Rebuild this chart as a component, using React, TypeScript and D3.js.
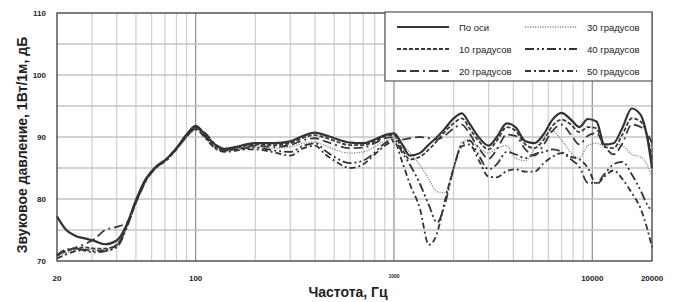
import React from "react";
import * as d3 from "d3";

// frequency grid, Hz
const freqs = [20, 22, 25, 28, 31, 35, 40, 45, 50, 56, 63, 71, 80, 90, 100, 112, 125, 140, 160, 180,
  200, 250, 300, 350, 400, 450, 500, 600, 700, 800, 900, 1000, 1100, 1200, 1350, 1500, 1650, 1800, 2000, 2200,
  2400, 2700, 3000, 3300, 3700, 4100, 4600, 5100, 5700, 6300, 7000, 7800, 8600, 9500, 10500, 11500, 12800, 14200, 15800, 17500,
  19000, 20000];

const onAxis = [77.2, 75.2, 74.0, 73.6, 73.2, 72.7, 73.3, 75.9, 79.8, 83.2,
  85.2, 86.4, 88.2, 90.4, 91.8, 90.3, 88.8, 88.1, 88.4, 88.8,
  89.0, 89.0, 89.3, 90.2, 90.7, 90.3, 89.8, 89.1, 89.0, 89.6,
  90.3, 90.6, 88.8, 87.0, 87.4, 88.8, 90.0, 91.3, 93.0, 93.8,
  92.2, 89.8, 88.6, 90.0, 92.2, 91.6, 89.3, 89.0, 90.5, 92.8,
  93.9, 92.8, 91.6, 92.9, 92.5, 88.8, 89.0, 91.5, 94.6, 93.6,
  89.6, 85.0];

const deg10 = [70.8, 71.5, 72.0, 72.2, 72.0, 72.0, 72.6, 75.6, 79.6, 83.0,
  85.0, 86.3, 88.0, 90.2, 91.6, 90.5, 88.6, 87.9, 88.2, 88.6,
  88.8, 88.7, 89.0, 89.9, 90.3, 89.9, 89.4, 88.7, 88.7, 89.3,
  90.1, 90.3, 88.0, 86.4, 86.8, 88.0, 89.4, 90.8, 92.2, 93.0,
  91.4, 89.2, 88.0, 89.4, 91.6, 91.0, 88.8, 88.2, 89.6, 91.8,
  92.8, 92.0, 90.8, 91.6, 91.4, 88.4, 88.2, 90.4, 93.0, 92.5,
  90.0, 86.5];

const deg20 = [71.0, 71.6, 72.2, 72.8, 73.6, 75.0, 75.5, 76.2, 79.4, 82.8,
  85.1, 86.2, 88.1, 90.0, 91.3, 90.6, 88.9, 88.0, 88.0, 88.4,
  88.6, 88.4, 88.7, 89.5, 89.8, 89.3, 88.8, 88.2, 88.3, 89.0,
  89.8, 90.0, 89.6, 89.8, 90.0, 89.8, 89.6, 90.2, 91.4, 92.0,
  90.6, 88.0, 86.5, 88.0, 90.4, 90.2, 88.0, 87.0, 88.8, 91.0,
  92.0, 90.4, 88.8, 90.2, 90.6, 88.6, 87.2, 89.0, 92.0, 91.6,
  90.5, 89.0];

const deg30 = [70.5, 71.2, 71.8, 72.0, 71.8, 71.6, 72.4, 75.6, 79.5, 83.0,
  85.0, 86.3, 88.0, 90.0, 91.4, 90.2, 88.4, 87.8, 88.0, 88.3,
  88.4, 88.2, 88.4, 89.0, 89.2, 88.6, 88.0, 87.4, 87.6, 88.4,
  89.4, 89.8, 88.8, 87.5, 85.5, 83.2, 81.2, 81.0, 85.0, 89.2,
  89.6, 88.2, 87.4, 88.2, 88.6, 86.6, 86.2, 88.0, 90.0, 91.0,
  89.5, 87.5, 86.6, 88.6, 89.0, 88.6, 89.0, 88.6, 87.2, 86.8,
  85.4, 83.4];

const deg40 = [70.9, 71.8, 72.0, 71.6, 71.4, 71.6, 72.2, 75.4, 79.6, 83.1,
  85.2, 86.2, 88.1, 90.3, 91.5, 90.0, 88.3, 87.8, 88.0, 88.2,
  88.3, 87.8, 87.6, 88.6, 89.0, 87.8, 86.8, 85.8, 86.2, 87.5,
  89.0, 89.6, 87.5, 85.6, 82.5, 79.0, 76.2, 79.0, 85.0, 88.8,
  89.4, 86.8, 84.8, 85.6, 87.6, 87.2, 86.6, 87.2, 87.6, 88.0,
  87.6, 86.4, 85.2, 82.6, 82.6, 84.0, 85.6, 86.0, 84.0, 81.4,
  79.0, 78.0];

const deg50 = [70.4, 71.0, 71.6, 71.8, 71.6, 71.8, 72.6, 75.6, 79.4, 82.9,
  85.0, 86.4, 88.2, 90.1, 91.2, 89.8, 88.2, 87.6, 87.8, 88.0,
  88.0, 87.5, 87.0, 88.2, 88.6, 87.2, 86.2, 85.0, 85.6, 87.2,
  88.6, 89.3, 86.0, 82.5, 78.5, 72.6, 74.5, 79.5, 85.0, 88.5,
  88.8, 86.0, 83.6, 83.5, 84.5, 84.8, 84.4, 84.4, 85.8, 86.8,
  87.4, 86.8, 86.4, 85.0, 82.4, 83.6, 84.6, 83.2, 81.0, 78.5,
  75.0, 72.2];

const seriesNames = ["По оси", "10 градусов", "20 градусов", "30 градусов", "40 градусов", "50 градусов"];
const seriesValues = [onAxis, deg10, deg20, deg30, deg40, deg50];

const yTicks = [70, 80, 90, 100, 110];
const yGrid = [75, 80, 85, 90, 95, 100, 105];
const xTickLabels = [20, 100, 1000, 10000, 20000];

// stroke style per series
const styles = [
  { dash: null, color: "#333", width: 2.2 },
  { dash: "4,2", color: "#3a3a3a", width: 1.8 },
  { dash: "9,4,9,4,2,4", color: "#3a3a3a", width: 1.8 },
  { dash: "1.2,1.3", color: "#8a8a8a", width: 1.3 },
  { dash: "9,3,2,3,2,3", color: "#333", width: 1.8 },
  { dash: "6,3,2,3", color: "#333", width: 1.8 },
];

export default function App() {
  const svgRef = React.useRef(null);
  const width = 678, height = 302;
  const margin = { left: 57, right: 26, top: 13, bottom: 41 };

  React.useEffect(() => {
    const x = d3.scaleLog().domain([20, 20000]).range([margin.left, width - margin.right]);
    const y = d3.scaleLinear().domain([70, 110]).range([height - margin.bottom, margin.top]);

    const svg = d3.select(svgRef.current);
    svg.selectAll("*").remove();
    svg.append("rect").attr("width", width).attr("height", height).attr("fill", "#fff");

    const font = "'Liberation Sans', Arial, sans-serif";

    // vertical grid
    const vLines: number[] = [];
    [10, 100, 1000, 10000].forEach(dec => {
      for (let k = 1; k <= 9; k++) {
        const f = dec * k;
        if (f > 20 && f < 20000) vLines.push(f);
      }
    });
    svg.append("g").selectAll("line").data(vLines).enter().append("line")
      .attr("x1", d => x(d)).attr("x2", d => x(d))
      .attr("y1", margin.top).attr("y2", height - margin.bottom)
      .attr("stroke", d => ([100, 1000, 10000].includes(d) ? "#8c8c8c" : "#cfcfcf"))
      .attr("stroke-width", 1.2);

    // horizontal grid
    svg.append("g").selectAll("line").data(yGrid).enter().append("line")
      .attr("x1", margin.left).attr("x2", width - margin.right)
      .attr("y1", d => y(d)).attr("y2", d => y(d))
      .attr("stroke", "#c4c4c4").attr("stroke-width", 1.4);

    // plot frame
    svg.append("rect")
      .attr("x", margin.left).attr("y", margin.top)
      .attr("width", width - margin.left - margin.right)
      .attr("height", height - margin.top - margin.bottom)
      .attr("fill", "none").attr("stroke", "#555").attr("stroke-width", 1.5);

    // curves
    const line = d3.line<number>()
      .x((d, i) => x(freqs[i]))
      .y(d => y(d))
      .curve(d3.curveMonotoneX);

    const order = [3, 5, 4, 2, 1, 0];
    svg.append("g").selectAll("path").data(order).enter().append("path")
      .attr("d", i => line(seriesValues[i]))
      .attr("fill", "none")
      .attr("stroke", i => styles[i].color)
      .attr("stroke-width", i => styles[i].width)
      .attr("stroke-dasharray", i => styles[i].dash)
      .attr("stroke-linejoin", "round");

    // y tick labels
    svg.append("g").selectAll("text").data(yTicks).enter().append("text")
      .attr("x", 46).attr("y", d => y(d) + 3)
      .attr("text-anchor", "end")
      .attr("font-family", font).attr("font-weight", "bold").attr("font-size", 8)
      .attr("fill", "#222")
      .text(d => d);

    // x tick labels
    svg.append("g").selectAll("text").data(xTickLabels).enter().append("text")
      .attr("x", d => x(d)).attr("y", d => (d === 1000 ? 278 : 281))
      .attr("text-anchor", "middle")
      .attr("font-family", font).attr("font-weight", "bold")
      .attr("font-size", d => (d === 1000 ? 5 : 8))
      .attr("fill", "#222")
      .text(d => d);

    // axis titles
    svg.append("text")
      .attr("transform", "translate(27, 145) rotate(-90)")
      .attr("text-anchor", "middle")
      .attr("font-family", font).attr("font-weight", "bold").attr("font-size", 14)
      .attr("fill", "#222")
      .text("Звуковое давление, 1Вт/1м, дБ");

    svg.append("text")
      .attr("x", 348).attr("y", 297)
      .attr("text-anchor", "middle")
      .attr("font-family", font).attr("font-weight", "bold").attr("font-size", 14)
      .attr("fill", "#222")
      .text("Частота, Гц");

    // legend
    const lg = svg.append("g");
    lg.append("rect")
      .attr("x", 385).attr("y", 12).attr("width", 267).attr("height", 69)
      .attr("fill", "#fff").attr("stroke", "#555").attr("stroke-width", 1.2);
    const rowsY = [27, 49, 71];
    seriesNames.forEach((name, i) => {
      const col = Math.floor(i / 3), row = i % 3;
      const lx = col === 0 ? 397 : 525;
      const tx = col === 0 ? 459 : 587;
      const ly = rowsY[row];
      lg.append("line")
        .attr("x1", lx).attr("x2", lx + 52).attr("y1", ly).attr("y2", ly)
        .attr("stroke", styles[i].color).attr("stroke-width", styles[i].width)
        .attr("stroke-dasharray", styles[i].dash);
      lg.append("text")
        .attr("x", tx).attr("y", ly + 3.5)
        .attr("font-family", font).attr("font-size", 9.5)
        .attr("fill", "#222")
        .text(name);
    });
  }, []);

  return (
    <svg ref={svgRef} width={width} height={height}
      style={{ position: "absolute", left: 0, top: 0 }} />
  );
}
